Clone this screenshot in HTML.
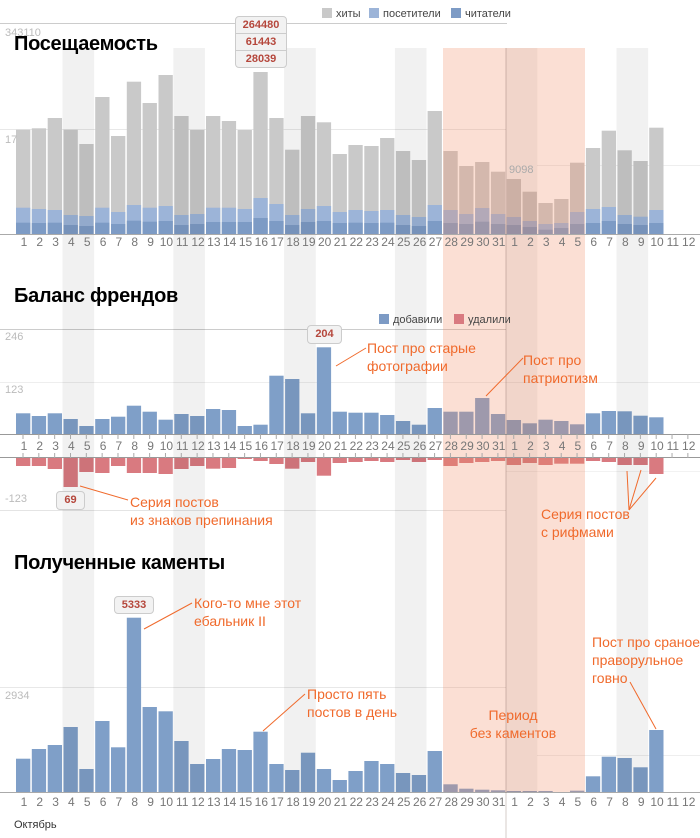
<!DOCTYPE html>
<html><head><meta charset="utf-8">
<style>
body{margin:0;width:700px;height:838px;overflow:hidden;background:#fff;font-family:"Liberation Sans","DejaVu Sans",sans-serif;position:relative}
svg{position:absolute;left:0;top:0}
.lab{position:absolute;left:16px;display:flex;font-size:12px;color:#777;line-height:14px}
.lab span{width:15.83px;text-align:center;flex:none}
.t{position:absolute;left:14px;font-weight:bold;font-size:20px;color:#000;letter-spacing:-0.3px}
.ax{position:absolute;left:5px;font-size:11px;color:#bbb}
.note{position:absolute;color:#f06a2c;font-size:14px;line-height:18px;white-space:nowrap}
.leg{position:absolute;font-size:11px;color:#444}
.leg i{display:inline-block;width:10px;height:10px;vertical-align:-1px;margin-right:4px}
.tip{position:absolute;background:#f2f2f2;border:1px solid #ccc;border-radius:4px;color:#b5473c;font-weight:bold;font-size:11px;text-align:center}
</style></head><body>
<svg id="s" width="700" height="838" xmlns="http://www.w3.org/2000/svg"></svg>
<div class="t" style="top:33px">Посещаемость</div>
<div class="t" style="top:285px">Баланс френдов</div>
<div class="t" style="top:552px">Полученные каменты</div>
<div class="ax" style="top:27px">343110</div>
<div class="ax" style="top:134px">17</div>
<div class="ax" style="top:331px">246</div>
<div class="ax" style="top:384px">123</div>
<div class="ax" style="top:493px">-123</div>
<div class="ax" style="top:690px">2934</div>
<div class="ax" style="top:164px;left:509px;color:#aaa">9098</div>
<div class="leg" style="left:322px;top:8px"><i style="background:#c9c9c9"></i>хиты</div>
<div class="leg" style="left:369px;top:8px"><i style="background:#9cb4d8"></i>посетители</div>
<div class="leg" style="left:451px;top:8px"><i style="background:#7d9bc5"></i>читатели</div>
<div class="leg" style="left:379px;top:314px"><i style="background:#7d9bc5"></i>добавили</div>
<div class="leg" style="left:454px;top:314px"><i style="background:#d97a80"></i>удалили</div>
<div class="lab" style="top:235px"><span>1</span><span>2</span><span>3</span><span>4</span><span>5</span><span>6</span><span>7</span><span>8</span><span>9</span><span>10</span><span>11</span><span>12</span><span>13</span><span>14</span><span>15</span><span>16</span><span>17</span><span>18</span><span>19</span><span>20</span><span>21</span><span>22</span><span>23</span><span>24</span><span>25</span><span>26</span><span>27</span><span>28</span><span>29</span><span>30</span><span>31</span><span>1</span><span>2</span><span>3</span><span>4</span><span>5</span><span>6</span><span>7</span><span>8</span><span>9</span><span>10</span><span>11</span><span>12</span></div>
<div class="lab" style="top:439px"><span>1</span><span>2</span><span>3</span><span>4</span><span>5</span><span>6</span><span>7</span><span>8</span><span>9</span><span>10</span><span>11</span><span>12</span><span>13</span><span>14</span><span>15</span><span>16</span><span>17</span><span>18</span><span>19</span><span>20</span><span>21</span><span>22</span><span>23</span><span>24</span><span>25</span><span>26</span><span>27</span><span>28</span><span>29</span><span>30</span><span>31</span><span>1</span><span>2</span><span>3</span><span>4</span><span>5</span><span>6</span><span>7</span><span>8</span><span>9</span><span>10</span><span>11</span><span>12</span></div>
<div class="lab" style="top:795px"><span>1</span><span>2</span><span>3</span><span>4</span><span>5</span><span>6</span><span>7</span><span>8</span><span>9</span><span>10</span><span>11</span><span>12</span><span>13</span><span>14</span><span>15</span><span>16</span><span>17</span><span>18</span><span>19</span><span>20</span><span>21</span><span>22</span><span>23</span><span>24</span><span>25</span><span>26</span><span>27</span><span>28</span><span>29</span><span>30</span><span>31</span><span>1</span><span>2</span><span>3</span><span>4</span><span>5</span><span>6</span><span>7</span><span>8</span><span>9</span><span>10</span><span>11</span><span>12</span></div>
<div style="position:absolute;left:14px;top:819px;font-size:11px;color:#333">Октябрь</div>
<div class="tip" style="left:235px;top:16px;width:50px;line-height:16px">264480<div style="border-top:1px solid #ccc">61443</div><div style="border-top:1px solid #ccc">28039</div></div>
<div class="tip" style="left:307px;top:325px;width:33px;line-height:17px">204</div>
<div class="tip" style="left:56px;top:491px;width:27px;line-height:17px">69</div>
<div class="tip" style="left:114px;top:596px;width:38px;line-height:16px">5333</div>
<div class="note" style="left:367px;top:339px">Пост про старые<br>фотографии</div>
<div class="note" style="left:523px;top:351px">Пост про<br>патриотизм</div>
<div class="note" style="left:130px;top:493px">Серия постов<br>из знаков препинания</div>
<div class="note" style="left:541px;top:505px">Серия постов<br>с рифмами</div>
<div class="note" style="left:194px;top:594px">Кого-то мне этот<br>ебальник II</div>
<div class="note" style="left:307px;top:685px">Просто пять<br>постов в день</div>
<div class="note" style="left:463px;top:706px;text-align:center;width:100px">Период<br>без каментов</div>
<div class="note" style="left:592px;top:633px">Пост про сраное<br>праворульное<br>говно</div>
<script>
var s=document.getElementById('s'),P=15.83,X0=16,W=14.3,h='';
function R(x,y,w,hh,f){if(hh<0){y+=hh;hh=-hh}h+='<rect x="'+x+'" y="'+y+'" width="'+w+'" height="'+hh+'" fill="'+f+'"/>';}
function L(x1,y1,x2,y2,c,w){h+='<line x1="'+x1+'" y1="'+y1+'" x2="'+x2+'" y2="'+y2+'" stroke="'+c+'" stroke-width="'+(w||1)+'"/>';}
L(0,23.5,507,23.5,'#ccc');L(0,129.5,506,129.5,'#e8e8e8');L(537,165.5,700,165.5,'#eee');
L(0,329.5,506,329.5,'#ccc');L(0,382.5,700,382.5,'#eee');L(0,510.5,506,510.5,'#e4e4e4');L(506,471.5,700,471.5,'#f2f2f2');
L(0,687.5,506,687.5,'#e8e8e8');L(537,755.5,700,755.5,'#eee');
var hits=[129.7,128.3,118,129.7,144,97,136,81.7,103,75,116,130,116,121,130,72,118,149.7,116,122.3,154,145,146,138,151,160,111,151,166,162,171.7,179,191.7,203,199,162.7,148,130.7,150.3,161,127.7];
var vis=[207.7,209,210,215,216,207.7,212,205,207.7,206,215,214,207.7,207.7,209,198,204,215,209,206,212,210,211,210,215,217,205,210,214,208,214,217,221,224,223,212,209,207,215,216.7,210];
var rd=[222.7,223,222.7,225,226,222.7,224,220.7,221.7,221,225,224,222,222,222,218,221,225,222,221,223,222.7,223,222.7,225,226,221,223,224,221.7,224,225,227,229.7,228,224,223,221,224,225,223];
var add=[413.3,416,413.3,419,426,419,416.7,405.7,411.7,419.7,414,416,409,410,426,424.7,375.7,379,413.3,347.3,411.7,412.7,412.7,415,421,424.7,408,411.7,411.7,398,414,420,423.3,419.7,421,424.3,413.3,411,411.3,415.7,417.3];
var rem=[466,466,469,487,472,473,466,473,473,474,469,466,468.7,468,459,461,464,468.7,462,475.7,463,462,461,462,460,462,460,466,463,462,461,465,463,465,463.7,463.7,461,462,465,465,474];
var com=[758.7,749,745,727,769,721,747.3,617.7,707,711.3,741,764,759,749,750,731.7,764,770,752.7,769,780,771,761,764,773,775,751,784.3,788.7,789.7,790.3,791,791,791,792,790.7,776.3,756.7,758,767.3,730];
for(var k=0;k<41;k++){var x=(X0+k*P).toFixed(1);
R(x,hits[k],W,234-hits[k],'#c9c9c9');R(x,vis[k],W,234-vis[k],'#9cb4d8');R(x,rd[k],W,234-rd[k],'#7d9bc5');
R(x,add[k],W,434-add[k],'#7f9fc8');R(x,457.7,W,rem[k]-457.7,'#d97a80');
R(x,com[k],W,792-com[k],'#7f9fc8');}
[3,10,17,24,31,38].forEach(function(k){R((X0+k*P-1).toFixed(1),48,2*P,744,'rgba(0,0,0,0.055)');});
R(443,48,142,744,'rgba(242,140,100,0.28)');
L(0,234.5,700,234.5,'#aaa');L(0,434.5,700,434.5,'#999');L(0,457.5,700,457.5,'#999');L(0,792.5,700,792.5,'#aaa');
for(var k=0;k<43;k++){var cx=X0+k*P+7;L(cx,434,cx,439,'#aaa');L(cx,453,cx,458,'#aaa');}
L(506,48,506,838,'rgba(120,90,80,0.3)');
var o='#f06a2c';
L(336,366,366,348,o);L(486,396,523,358,o);L(80,486,128,500,o);
L(629,510,627,471,o);L(629,510,641,470,o);L(629,510,656,478,o);
L(144,629,192,603,o);L(263,731,305,694,o);L(656,729,630,682,o);
s.innerHTML=h;
</script>
</body></html>
